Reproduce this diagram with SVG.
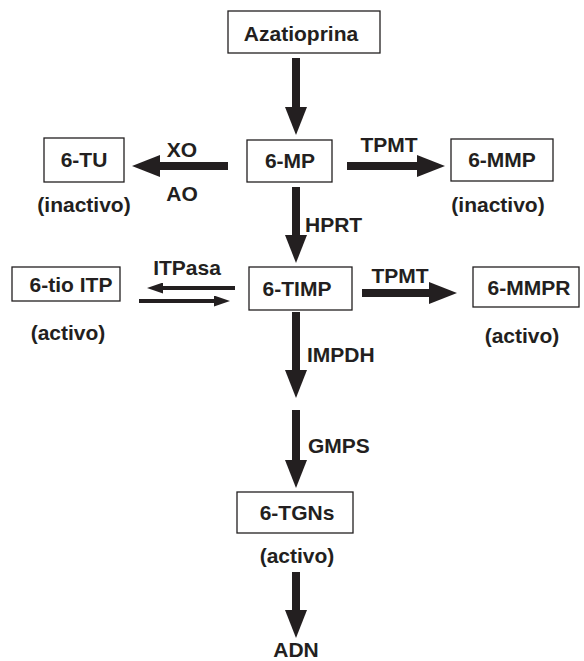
<svg xmlns="http://www.w3.org/2000/svg" width="584" height="661" viewBox="0 0 584 661">
<style>
.t{font-family:"Liberation Sans",Arial,sans-serif;font-weight:bold;font-size:21px;fill:#231f20;text-anchor:middle}
.b{fill:#fff;stroke:#231f20;stroke-width:1.3}
.a{stroke:#231f20;stroke-width:8;fill:none}
.s{stroke:#231f20;stroke-width:4;fill:none}
</style>
<defs>
<marker id="big" markerUnits="userSpaceOnUse" markerWidth="28" markerHeight="22" refX="0" refY="11" orient="auto"><path d="M0,0 L28,11 L0,22 z" fill="#231f20"/></marker>
<marker id="sm" markerUnits="userSpaceOnUse" markerWidth="16" markerHeight="11" refX="0" refY="5.5" orient="auto"><path d="M0,0 L16,5.5 L0,11 z" fill="#231f20"/></marker>
</defs>
<rect width="584" height="661" fill="#fff"/>
<g id="connectors">
<line class="a" x1="296" y1="58" x2="296" y2="107" marker-end="url(#big)"/>
<line class="a" x1="228" y1="166" x2="160" y2="166" marker-end="url(#big)"/>
<line class="a" x1="347" y1="166" x2="417" y2="166" marker-end="url(#big)"/>
<line class="a" x1="296" y1="187" x2="296" y2="235" marker-end="url(#big)"/>
<line class="s" x1="235" y1="288" x2="163" y2="288" marker-end="url(#sm)"/>
<line class="s" x1="139" y1="301" x2="214" y2="301" marker-end="url(#sm)"/>
<line class="a" x1="362" y1="293" x2="429" y2="293" marker-end="url(#big)"/>
<line class="a" x1="296" y1="312" x2="296" y2="370" marker-end="url(#big)"/>
<line class="a" x1="296" y1="410" x2="296" y2="460" marker-end="url(#big)"/>
<line class="a" x1="296" y1="572" x2="296" y2="610" marker-end="url(#big)"/>
<text class="t" x="182" y="157">XO</text>
<text class="t" x="182" y="201">AO</text>
<text class="t" x="389" y="152">TPMT</text>
<text class="t" x="305" y="232" style="text-anchor:start">HPRT</text>
<text class="t" x="187" y="275">ITPasa</text>
<text class="t" x="400" y="283">TPMT</text>
<text class="t" x="307" y="362" style="text-anchor:start">IMPDH</text>
<text class="t" x="308" y="453" style="text-anchor:start">GMPS</text>
</g>
<g id="azatioprina"><rect class="b" x="228" y="11" width="152" height="42"/><text class="t" x="301" y="41">Azatioprina</text></g>
<g id="n6mp"><rect class="b" x="247" y="140" width="85" height="42"/><text class="t" x="290" y="168">6-MP</text></g>
<g id="n6tu"><rect class="b" x="44" y="138" width="80" height="44"/><text class="t" x="84" y="167">6-TU</text><text class="t" x="84" y="212">(inactivo)</text></g>
<g id="n6mmp"><rect class="b" x="451" y="139" width="102" height="42"/><text class="t" x="502" y="167">6-MMP</text><text class="t" x="498" y="212">(inactivo)</text></g>
<g id="n6tioitp"><rect class="b" x="12" y="267" width="108" height="34"/><text class="t" x="71" y="292">6-tio ITP</text><text class="t" x="68" y="340">(activo)</text></g>
<g id="n6timp"><rect class="b" x="249" y="267" width="103" height="43"/><text class="t" x="297" y="296">6-TIMP</text></g>
<g id="n6mmpr"><rect class="b" x="473" y="267" width="106" height="40"/><text class="t" x="529" y="295">6-MMPR</text><text class="t" x="522" y="343">(activo)</text></g>
<g id="n6tgns"><rect class="b" x="237" y="492" width="116" height="41"/><text class="t" x="297" y="520">6-TGNs</text><text class="t" x="297" y="563">(activo)</text></g>
<g id="adn"><text class="t" x="296" y="657">ADN</text></g>
</svg>
